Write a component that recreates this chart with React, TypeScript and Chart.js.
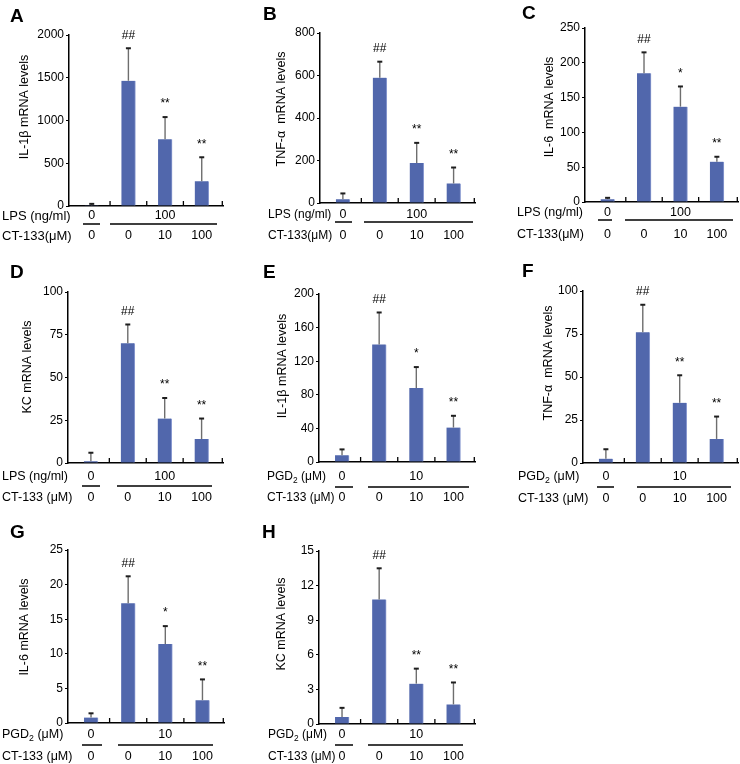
import React, { useEffect, useRef } from "react";
import { Chart, registerables } from "chart.js";

Chart.register(...registerables);

const FONT = '"Liberation Sans", Arial, Helvetica, sans-serif';

// ---------------- data ----------------
const groupPositions = [0, 1, 2, 3];
const ct133Doses = ["0", "0", "10", "100"];
const lpsDoses = ["0", "100"];
const pgd2Doses = ["0", "10"];

const il1bLpsMeans = [8, 1465, 780, 290];
const il1bLpsErrors = [17, 380, 260, 280];
const tnfLpsMeans = [18, 590, 188, 92];
const tnfLpsErrors = [27, 75, 95, 75];
const il6LpsMeans = [4, 185, 137, 58];
const il6LpsErrors = [2, 30, 29, 7];
const kcLpsMeans = [1, 70, 26, 14];
const kcLpsErrors = [5, 11, 12, 12];
const il1bPgdMeans = [8, 140, 88, 41];
const il1bPgdErrors = [7, 38, 25, 14];
const tnfPgdMeans = [2.5, 76, 35, 14];
const tnfPgdErrors = [5.5, 16, 16, 13];
const il6PgdMeans = [0.8, 17.3, 11.4, 3.3];
const il6PgdErrors = [0.6, 3.9, 2.6, 3.0];
const kcPgdMeans = [0.6, 10.8, 3.5, 1.7];
const kcPgdErrors = [0.8, 2.7, 1.3, 1.9];

const sigA = ["", "##", "**", "**"];
const sigB = ["", "##", "**", "**"];
const sigC = ["", "##", "*", "**"];
const sigD = ["", "##", "**", "**"];
const sigE = ["", "##", "*", "**"];
const sigF = ["", "##", "**", "**"];
const sigG = ["", "##", "*", "**"];
const sigH = ["", "##", "**", "**"];

const yMaxes = [2000, 800, 250, 100, 200, 100, 25, 15];
const ySteps = [500, 200, 50, 25, 40, 25, 5, 3];

// ---------------- layout ----------------
type Panel = {
  letter: string;
  title: string;
  means: number[];
  errors: number[];
  sig: string[];
  yMax: number;
  yStep: number;
  row1: "LPS" | "PGD";
  row2Label: string;
  row1Values: string[];
  box: { x: number; y: number; w: number; h: number };
  area: { l: number; t: number; r: number; b: number };
  letterPos: [number, number];
  titlePos: [number, number];
  labelX: number;
  tableFont: number;
  rows: [number, number, number];
  shortLine: [number, number];
  longLine: [number, number];
};

const BAR_COLOR = "#5167AC";

const panels: Panel[] = [
  {
    letter: "A", title: "IL-1β mRNA levels", means: il1bLpsMeans, errors: il1bLpsErrors, sig: sigA,
    yMax: yMaxes[0], yStep: ySteps[0], row1: "LPS", row2Label: "CT-133(μM)", row1Values: lpsDoses,
    box: { x: 0, y: 0, w: 245, h: 262 }, area: { l: 69, t: 35, r: 223, b: 206 },
    letterPos: [10, 22], titlePos: [25, 107], labelX: 2, tableFont: 13, rows: [216, 224, 236],
    shortLine: [83, 100], longLine: [110, 217],
  },
  {
    letter: "B", title: "TNF-α  mRNA levels", means: tnfLpsMeans, errors: tnfLpsErrors, sig: sigB,
    yMax: yMaxes[1], yStep: ySteps[1], row1: "LPS", row2Label: "CT-133(μM)", row1Values: lpsDoses,
    box: { x: 245, y: 0, w: 245, h: 262 }, area: { l: 320, t: 33, r: 475, b: 203 },
    letterPos: [263, 20], titlePos: [282, 109], labelX: 268, tableFont: 12, rows: [215, 222, 236],
    shortLine: [335, 352], longLine: [364, 473],
  },
  {
    letter: "C", title: "IL-6  mRNA levels", means: il6LpsMeans, errors: il6LpsErrors, sig: sigC,
    yMax: yMaxes[2], yStep: ySteps[2], row1: "LPS", row2Label: "CT-133(μM)", row1Values: lpsDoses,
    box: { x: 490, y: 0, w: 250, h: 262 }, area: { l: 585, t: 28, r: 738, b: 202 },
    letterPos: [522, 19], titlePos: [550, 107], labelX: 517, tableFont: 12.5, rows: [213, 220, 235],
    shortLine: [598, 612], longLine: [625, 733],
  },
  {
    letter: "D", title: "KC mRNA levels", means: kcLpsMeans, errors: kcLpsErrors, sig: sigD,
    yMax: yMaxes[3], yStep: ySteps[3], row1: "LPS", row2Label: "CT-133 (μM)", row1Values: lpsDoses,
    box: { x: 0, y: 250, w: 245, h: 262 }, area: { l: 68, t: 292, r: 223, b: 463 },
    letterPos: [10, 278], titlePos: [28, 367], labelX: 2, tableFont: 12.5, rows: [477, 486, 498],
    shortLine: [82, 100], longLine: [117, 212],
  },
  {
    letter: "E", title: "IL-1β mRNA levels", means: il1bPgdMeans, errors: il1bPgdErrors, sig: sigE,
    yMax: yMaxes[4], yStep: ySteps[4], row1: "PGD", row2Label: "CT-133 (μM)", row1Values: pgd2Doses,
    box: { x: 245, y: 250, w: 245, h: 262 }, area: { l: 319, t: 294, r: 475, b: 462 },
    letterPos: [263, 278], titlePos: [283, 366], labelX: 267, tableFont: 12, rows: [477, 487, 498],
    shortLine: [335, 353], longLine: [368, 469],
  },
  {
    letter: "F", title: "TNF-α  mRNA levels", means: tnfPgdMeans, errors: tnfPgdErrors, sig: sigF,
    yMax: yMaxes[5], yStep: ySteps[5], row1: "PGD", row2Label: "CT-133 (μM)", row1Values: pgd2Doses,
    box: { x: 490, y: 250, w: 250, h: 262 }, area: { l: 583, t: 291, r: 738, b: 463 },
    letterPos: [522, 277], titlePos: [549, 363], labelX: 518, tableFont: 12.5, rows: [477, 487, 499],
    shortLine: [597, 614], longLine: [637, 731],
  },
  {
    letter: "G", title: "IL-6 mRNA levels", means: il6PgdMeans, errors: il6PgdErrors, sig: sigG,
    yMax: yMaxes[6], yStep: ySteps[6], row1: "PGD", row2Label: "CT-133 (μM)", row1Values: pgd2Doses,
    box: { x: 0, y: 500, w: 245, h: 264 }, area: { l: 68, t: 550, r: 224, b: 723 },
    letterPos: [10, 538], titlePos: [25, 627], labelX: 2, tableFont: 12.5, rows: [735, 745, 757],
    shortLine: [82, 102], longLine: [118, 213],
  },
  {
    letter: "H", title: "KC mRNA levels", means: kcPgdMeans, errors: kcPgdErrors, sig: sigH,
    yMax: yMaxes[7], yStep: ySteps[7], row1: "PGD", row2Label: "CT-133 (μM)", row1Values: pgd2Doses,
    box: { x: 245, y: 500, w: 245, h: 264 }, area: { l: 319, t: 551, r: 475, b: 724 },
    letterPos: [262, 538], titlePos: [282, 624], labelX: 268, tableFont: 12, rows: [735, 745, 757],
    shortLine: [335, 353], longLine: [368, 463],
  },
];

function makeOverlay(p: Panel) {
  return {
    id: "overlay",
    afterDatasetsDraw(chart: any) {
      const { ctx, chartArea } = chart;
      const xs = chart.scales.x;
      const ys = chart.scales.y;
      ctx.save();
      // upward x tick marks at group boundaries and axis end
      ctx.strokeStyle = "#000";
      ctx.lineWidth = 1.3;
      const tickXs = [0.5, 1.5, 2.5].map((v) => xs.getPixelForValue(v));
      tickXs.push(chartArea.right - 0.7);
      for (const tx of tickXs) {
        ctx.beginPath();
        ctx.moveTo(tx, chartArea.bottom);
        ctx.lineTo(tx, chartArea.bottom - 5);
        ctx.stroke();
      }
      // error bars + significance
      p.means.forEach((m, i) => {
        const cx = xs.getPixelForValue(groupPositions[i]);
        const yb = ys.getPixelForValue(m);
        const yt = ys.getPixelForValue(m + p.errors[i]);
        ctx.strokeStyle = "#6e6e6e";
        ctx.lineWidth = 1.4;
        ctx.beginPath();
        ctx.moveTo(cx, yb);
        ctx.lineTo(cx, yt);
        ctx.stroke();
        ctx.strokeStyle = "#1e1e1e";
        ctx.lineWidth = 2;
        ctx.beginPath();
        ctx.moveTo(cx - 2.5, yt);
        ctx.lineTo(cx + 2.5, yt);
        ctx.stroke();
        if (p.sig[i]) {
          ctx.fillStyle = "#000";
          ctx.font = `12px ${FONT}`;
          ctx.textAlign = "center";
          ctx.textBaseline = "middle";
          ctx.fillText(p.sig[i], cx, yt - 13);
        }
      });
      ctx.restore();
    },
    afterDraw(chart: any) {
      const { ctx } = chart;
      const xs = chart.scales.x;
      const ox = p.box.x;
      const oy = p.box.y;
      const fs = p.tableFont;
      ctx.save();
      ctx.fillStyle = "#000";
      // panel letter
      ctx.font = `bold 19px ${FONT}`;
      ctx.textAlign = "left";
      ctx.textBaseline = "alphabetic";
      ctx.fillText(p.letter, p.letterPos[0] - ox, p.letterPos[1] - oy);
      // y title
      ctx.save();
      ctx.translate(p.titlePos[0] - ox, p.titlePos[1] - oy);
      ctx.rotate(-Math.PI / 2);
      ctx.font = `12.5px ${FONT}`;
      ctx.textAlign = "center";
      ctx.textBaseline = "middle";
      ctx.fillText(p.title, 0, 0);
      ctx.restore();
      // table row labels
      const r1 = p.rows[0] - oy;
      const rl = p.rows[1] - oy;
      const r2 = p.rows[2] - oy;
      const lx = p.labelX - ox;
      ctx.textAlign = "left";
      ctx.textBaseline = "middle";
      ctx.font = `${fs}px ${FONT}`;
      if (p.row1 === "LPS") {
        ctx.fillText("LPS (ng/ml)", lx, r1);
      } else {
        let x = lx;
        ctx.fillText("PGD", x, r1);
        x += ctx.measureText("PGD").width;
        ctx.font = `${fs * 0.7}px ${FONT}`;
        ctx.fillText("2", x, r1 + 4);
        x += ctx.measureText("2").width;
        ctx.font = `${fs}px ${FONT}`;
        ctx.fillText(" (μM)", x, r1);
      }
      ctx.fillText(p.row2Label, lx, r2);
      // values
      ctx.font = `12.5px ${FONT}`;
      ctx.textAlign = "center";
      const c0 = xs.getPixelForValue(groupPositions[0]);
      const c2 = xs.getPixelForValue(groupPositions[2]);
      ctx.fillText(p.row1Values[0], c0, r1);
      ctx.fillText(p.row1Values[1], c2, r1);
      ct133Doses.forEach((d, i) => {
        ctx.fillText(d, xs.getPixelForValue(groupPositions[i]), r2);
      });
      // group lines
      ctx.strokeStyle = "#000";
      ctx.lineWidth = 1.3;
      ctx.beginPath();
      ctx.moveTo(p.shortLine[0] - ox, rl);
      ctx.lineTo(p.shortLine[1] - ox, rl);
      ctx.moveTo(p.longLine[0] - ox, rl);
      ctx.lineTo(p.longLine[1] - ox, rl);
      ctx.stroke();
      ctx.restore();
    },
  };
}

function buildConfig(p: Panel): any {
  return {
    type: "bar",
    data: {
      datasets: [
        {
          data: p.means.map((m, i) => ({ x: groupPositions[i], y: m })),
          backgroundColor: BAR_COLOR,
          borderColor: "#8a9ad0",
          borderWidth: { top: 0, left: 0, bottom: 0, right: 1 },
          borderSkipped: false,
          barThickness: 14,
        },
      ],
    },
    options: {
      responsive: false,
      animation: false,
      devicePixelRatio: 1,
      layout: {
        padding: {
          left: 0,
          top: p.area.t - p.box.y,
          right: p.box.x + p.box.w - p.area.r,
          bottom: p.box.y + p.box.h - p.area.b,
        },
      },
      plugins: { legend: { display: false }, tooltip: { enabled: false } },
      scales: {
        x: {
          type: "linear",
          offset: false,
          min: -0.62,
          max: 3.58,
          ticks: { display: false },
          grid: { display: false, offset: false },
          border: { display: true, color: "#000", width: 1.5 },
          afterFit: (s: any) => {
            s.height = 0;
          },
        },
        y: {
          type: "linear",
          min: 0,
          max: p.yMax,
          ticks: {
            stepSize: p.yStep,
            color: "#000",
            padding: 2,
            font: { family: FONT, size: 12 },
            callback: (v: any) => String(v),
          },
          grid: {
            display: true,
            drawOnChartArea: false,
            drawTicks: true,
            tickLength: 3,
            color: "#000",
            lineWidth: 1,
          },
          border: { display: true, color: "#000", width: 1.5 },
          afterFit: (s: any) => {
            s.width = p.area.l - p.box.x;
          },
        },
      },
    },
    plugins: [makeOverlay(p)],
  };
}

function PanelChart({ p }: { p: Panel }) {
  const ref = useRef<HTMLCanvasElement>(null);
  useEffect(() => {
    const chart = new Chart(ref.current as HTMLCanvasElement, buildConfig(p));
    return () => chart.destroy();
  }, [p]);
  return (
    <canvas
      ref={ref}
      width={p.box.w}
      height={p.box.h}
      style={{
        position: "absolute",
        left: p.box.x,
        top: p.box.y,
        width: p.box.w,
        height: p.box.h,
      }}
    />
  );
}

export default function App() {
  return (
    <div
      style={{
        position: "absolute",
        left: 0,
        top: 0,
        width: 740,
        height: 764,
        background: "#fff",
        overflow: "hidden",
      }}
    >
      {panels.map((p) => (
        <PanelChart key={p.letter} p={p} />
      ))}
    </div>
  );
}
